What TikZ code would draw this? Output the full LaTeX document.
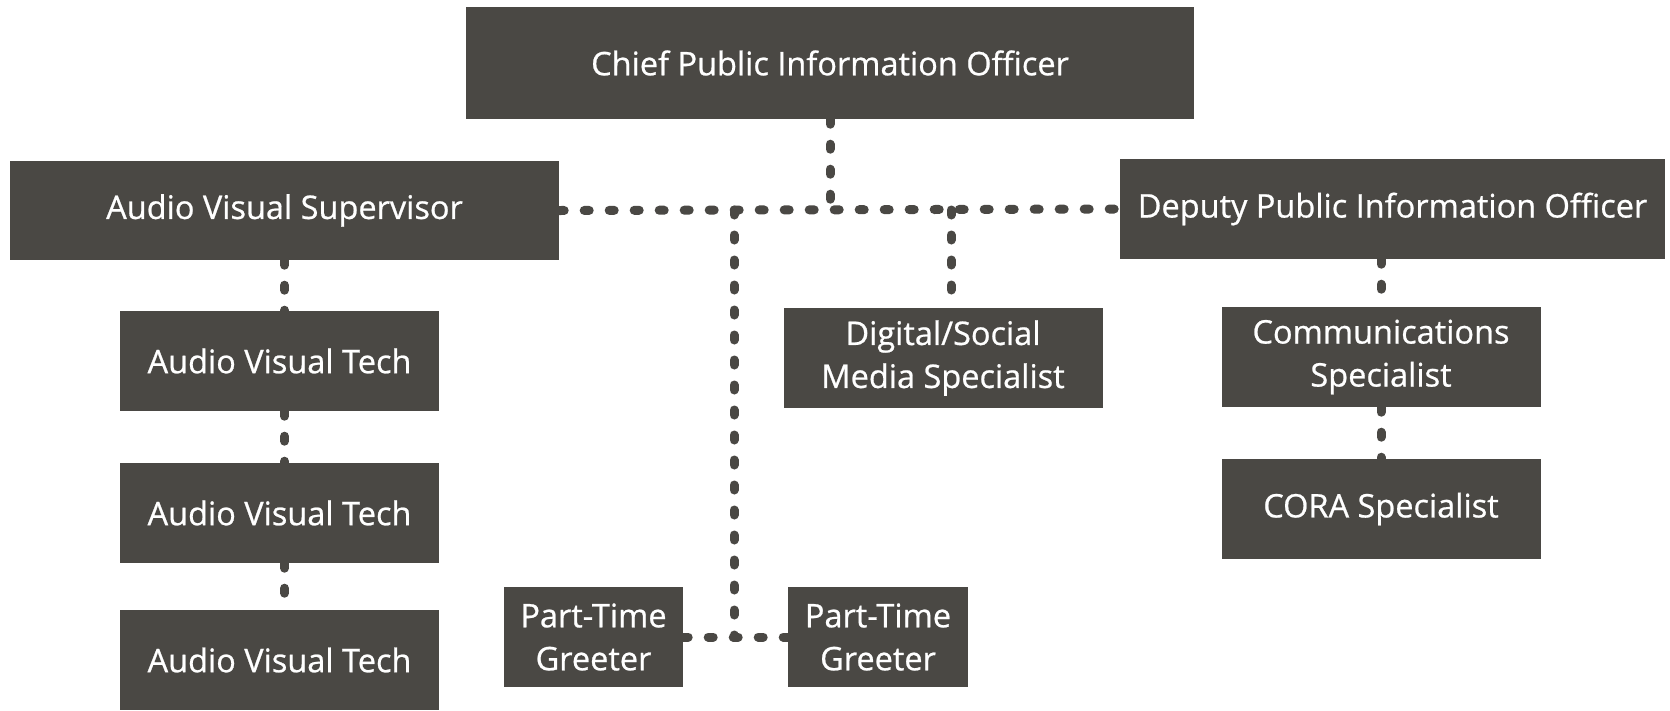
\documentclass[tikz,border=0pt]{standalone}
\usepackage{fontspec}
\setmainfont{Open Sans}
\newfontfamily\rolefont{Open Sans}[FakeBold=0.7]
\usetikzlibrary{positioning}

\definecolor{boxgray}{HTML}{4A4844}

\begin{document}
\begin{tikzpicture}[
  x=1pt, y=-1pt,
  font=\rolefont\fontsize{32.5}{43}\selectfont,
  role/.style={fill=boxgray, text=white, inner sep=0pt, align=center, minimum height=100pt},
  small/.style={role, minimum width=319pt},
  link/.style={draw=boxgray, line width=9pt, line cap=round, dash pattern=on 5pt off 20pt}
]
\useasboundingbox (0,0) rectangle (1670,710);

\node[role, minimum width=728pt, minimum height=112pt] (chief) at (830,63) {Chief Public Information Officer};
\node[role, minimum width=549pt, minimum height=99pt] (sup) at (284.5,210.5) {Audio Visual Supervisor};
\node[role, minimum width=545pt] (dep) at (1392.5,209) {Deputy Public Information Officer};

\node[small] (av1) at (279.5,361) {Audio Visual Tech};
\node[small] (av2) at (279.5,513) {Audio Visual Tech};
\node[small] (av3) at (279.5,660) {Audio Visual Tech};

\node[small] (dig) at (943,358) {Digital/Social\\Media Specialist};
\node[small] (comm) at (1381,357) {Communications\\Specialist};
\node[small] (cora) at (1381,509) {CORA Specialist};

\node[role, minimum width=179pt] (pt1) at (593.5,637) {Part-Time\\Greeter};
\node[role, minimum width=180pt] (pt2) at (878,637) {Part-Time\\Greeter};

\coordinate (jgreet) at (734,210);
\coordinate (jdig) at (951,210);

% main bar
\draw[link] (sup.east) -- (dep.west);
\draw[link] (chief.south) -- (chief.south |- sup.east);
\draw[link] (jdig) -- (jdig |- dig.north);
\draw[link] (jgreet) -- (jgreet |- pt1.east);
\draw[link] (pt1.east) -- (pt2.west);

% audio visual column
\draw[link] (sup.south) -- (sup.south |- av1.north);
\draw[link] (sup.south |- av1.south) -- (sup.south |- av2.north);
\draw[link] (sup.south |- av2.south) -- (sup.south |- av3.north);

% deputy column
\draw[link] (comm.north |- dep.south) -- (comm.north);
\draw[link] (comm.south) -- (cora.north);
\end{tikzpicture}
\end{document}
